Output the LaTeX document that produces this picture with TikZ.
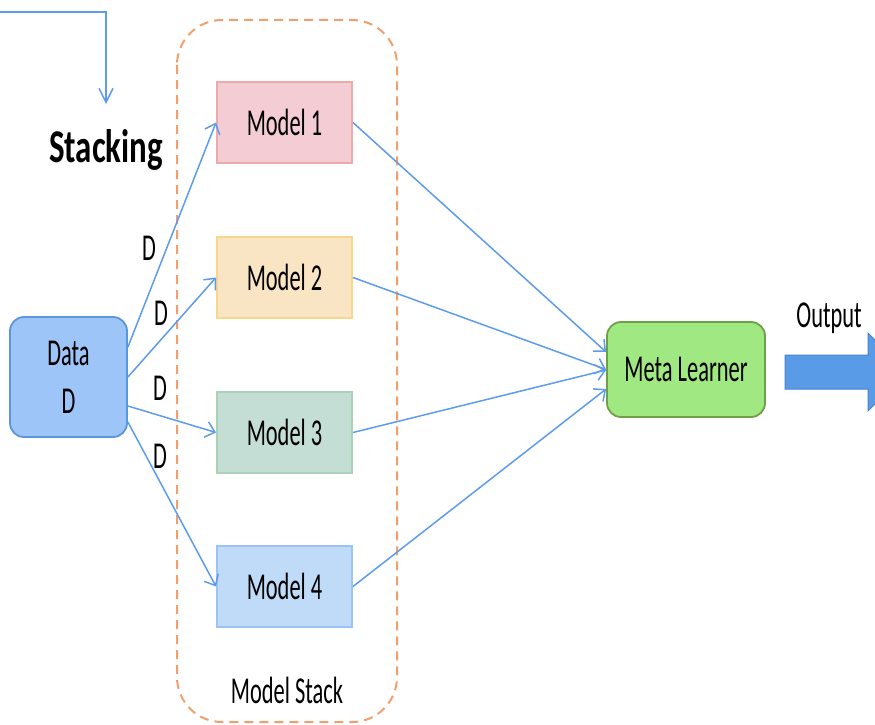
\documentclass[tikz,border=0pt]{standalone}
\usepackage{fontspec}
\setmainfont[FakeStretch=0.59]{Carlito}
\newfontfamily\stkfont[FakeStretch=0.7]{Carlito}
\usetikzlibrary{arrows.meta,calc}
\definecolor{lnblue}{RGB}{93,156,236}
\definecolor{stackor}{RGB}{240,160,110}
\definecolor{mAfill}{RGB}{243,205,211}
\definecolor{mAdraw}{RGB}{236,170,170}
\definecolor{mBfill}{RGB}{249,228,196}
\definecolor{mBdraw}{RGB}{248,214,140}
\definecolor{mCfill}{RGB}{196,222,213}
\definecolor{mCdraw}{RGB}{170,210,182}
\definecolor{mDfill}{RGB}{192,219,248}
\definecolor{mDdraw}{RGB}{157,195,245}
\definecolor{datafill}{RGB}{158,197,247}
\definecolor{datadraw}{RGB}{90,150,220}
\definecolor{metafill}{RGB}{160,232,130}
\definecolor{metadraw}{RGB}{110,160,72}
\definecolor{outfill}{RGB}{90,155,232}
\definecolor{outdraw}{RGB}{70,130,210}
\begin{document}
\begin{tikzpicture}[x=1pt,y=-1pt,
  every node/.style={font=\fontsize{38}{46}\selectfont, text=black},
  modelbox/.style={rectangle, line width=2pt, minimum width=135pt, minimum height=81pt, inner sep=0pt},
  roundbox/.style={rectangle, rounded corners=14pt, line width=1.8pt, inner sep=0pt, align=center},
  conn/.style={draw=lnblue, line width=1.5pt, -{Straight Barb[length=9pt,width=16pt,line width=1.5pt]}},
  lbl/.style={inner sep=0pt},
  dashbox/.style={draw=stackor, line width=2pt, dash pattern=on 9pt off 6pt, rounded corners=45pt}
]
\useasboundingbox (0,0) rectangle (875,725);

% dashed model stack frame
\draw[dashbox] (177,20) rectangle (397,722);
\node[lbl] (stacklbl) at (287,690) {Model Stack};

% top connector
\coordinate (tl) at (0,12);
\coordinate (tr) at (106,12);
\coordinate (tdown) at (106,104);
\draw[conn, -{Straight Barb[length=14pt,width=14pt,line width=1.5pt]}] (tl) -- (tr) -- (tdown);
\node[lbl, font=\stkfont\bfseries\fontsize{47}{50}\selectfont] (stacking) at (106,150) {Stacking};

% nodes
\node[roundbox, fill=datafill, draw=datadraw, minimum width=117pt, minimum height=120pt] (data) at (68.5,377) {Data\\[2pt]D};
\node[modelbox, fill=mAfill, draw=mAdraw] (m1) at (284.5,122.5) {Model 1};
\node[modelbox, fill=mBfill, draw=mBdraw] (m2) at (284.5,277.5) {Model 2};
\node[modelbox, fill=mCfill, draw=mCdraw] (m3) at (284.5,432.5) {Model 3};
\node[modelbox, fill=mDfill, draw=mDdraw] (m4) at (284.5,586.5) {Model 4};
\node[roundbox, fill=metafill, draw=metadraw, minimum width=158pt, minimum height=95pt] (meta) at (686,369.5) {Meta Learner};

% data to models
\draw[conn] ([yshift=30pt]data.east) -- (m1.west);
\draw[conn] (data.east) -- (m2.west);
\draw[conn] ([yshift=-29pt]data.east) -- (m3.west);
\draw[conn] ([yshift=-45pt]data.east) -- (m4.west);

% D labels
\node[lbl] (d1) at (149,248) {D};
\node[lbl] (d2) at (161,313) {D};
\node[lbl] (d3) at (160,388) {D};
\node[lbl] (d4) at (160,456) {D};

% models to meta
\draw[conn] (m1.east) -- ([yshift=17.5pt]meta.west);
\draw[conn] (m2.east) -- (meta.west);
\draw[conn] (m3.east) -- ([yshift=-0.5pt]meta.west);
\draw[conn] (m4.east) -- ([yshift=-19.5pt]meta.west);

% output block arrow
\node[lbl] (outlbl) at (829,318) {Output};
\begin{scope}
\clip (760,300) rectangle (875,440);
\draw[fill=outfill, draw=outdraw, line width=1pt]
  (785,355) -- (868,355) -- (868,333) -- (907,372) -- (868,411) -- (868,389) -- (785,389) -- cycle;
\end{scope}
\end{tikzpicture}
\end{document}
